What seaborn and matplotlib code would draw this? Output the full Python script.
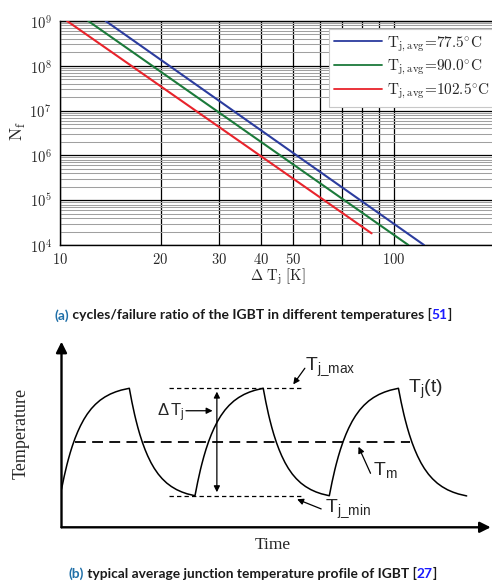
import numpy as np
import pandas as pd
import matplotlib
matplotlib.use("Agg")
import matplotlib.pyplot as plt
import seaborn as sns
from matplotlib.ticker import FixedLocator, FixedFormatter, LogLocator, NullFormatter
from matplotlib.lines import Line2D

# ---------------- panel (a): cycles to failure vs. junction swing ----------------
series_labels = [
    r"$\mathrm{T_{j,avg}}$=77.5$^{\circ}$C",
    r"$\mathrm{T_{j,avg}}$=90.0$^{\circ}$C",
    r"$\mathrm{T_{j,avg}}$=102.5$^{\circ}$C",
]
series_colors = ["#2b3c9e", "#1b7a3a", "#e8232b"]

dtj_775 = [13.7, 123.0]
nf_775 = [1e9, 1e4]
dtj_900 = [12.15, 110.4]
nf_900 = [1e9, 1e4]
dtj_1025 = [10.5, 85.7]
nf_1025 = [1e9, 1.82e4]

x_tick_values = [10, 20, 30, 40, 50, 100]
x_tick_labels = ["10", "20", "30", "40", "50", "100"]
x_minor_grid = [60, 70, 80, 90]
y_tick_values = [1e4, 1e5, 1e6, 1e7, 1e8, 1e9]
y_tick_labels = [r"$10^{4}$", r"$10^{5}$", r"$10^{6}$", r"$10^{7}$", r"$10^{8}$", r"$10^{9}$"]

# ---------------- panel (b): junction temperature profile ----------------
knot_time = [0.0, 1.58, 3.11, 4.70, 6.24, 7.85, 9.44]
knot_temp = [2.05, 7.49, 1.70, 7.49, 1.70, 7.49, 1.69]
# thermal charge / discharge shape between two knots (fraction of time, fraction of swing)
profile_time = [0.0, 0.02, 0.04, 0.06, 0.08, 0.10, 0.13, 0.16, 0.20, 0.24, 0.28,
                0.33, 0.38, 0.44, 0.50, 0.57, 0.64, 0.72, 0.80, 0.88, 0.94, 1.0]
profile_swing = [0.0, 0.067, 0.129, 0.188, 0.243, 0.294, 0.365, 0.429, 0.505, 0.571, 0.629,
                 0.692, 0.745, 0.798, 0.841, 0.882, 0.914, 0.943, 0.965, 0.982, 0.991, 1.0]
temp_mean = 4.61
temp_max = 7.49
temp_min = 1.70

W, H = 492, 583
fig = plt.figure(figsize=(W / 100, H / 100), dpi=100)
sns.set_theme(style="white")
plt.rcParams["font.family"] = ["DejaVu Sans"]
plt.rcParams["mathtext.fontset"] = "cm"


def fx(px):
    return px / W


def fy(py):
    return 1 - py / H


# ================= panel (a) =================
ax1 = fig.add_axes([fx(60), fy(245), (494.5 - 60) / W, (245 - 21) / H])
ax1.set_xscale("log")
ax1.set_yscale("log")

df = pd.DataFrame({
    "dT": dtj_775 + dtj_900 + dtj_1025,
    "Nf": nf_775 + nf_900 + nf_1025,
    "series": [series_labels[0]] * len(dtj_775)
    + [series_labels[1]] * len(dtj_900)
    + [series_labels[2]] * len(dtj_1025),
})
sns.lineplot(data=df, x="dT", y="Nf", hue="series", hue_order=series_labels,
             palette=dict(zip(series_labels, series_colors)), linewidth=1.5,
             estimator=None, sort=False, legend=False, ax=ax1, zorder=3)

ax1.set_xlim(10, 200)
ax1.set_ylim(1e4, 1e9)
ax1.xaxis.set_major_locator(FixedLocator(x_tick_values))
ax1.xaxis.set_major_formatter(FixedFormatter([rf"$\mathrm{{{s}}}$" for s in x_tick_labels]))
ax1.xaxis.set_minor_locator(FixedLocator(x_minor_grid))
ax1.xaxis.set_minor_formatter(NullFormatter())
ax1.yaxis.set_major_locator(FixedLocator(y_tick_values))
ax1.yaxis.set_major_formatter(FixedFormatter(y_tick_labels))
ax1.yaxis.set_minor_locator(LogLocator(base=10, subs=np.arange(2, 10)))
ax1.yaxis.set_minor_formatter(NullFormatter())

ax1.set_axisbelow(True)
ax1.grid(which="major", axis="both", color="black", linewidth=0.9)
ax1.grid(which="minor", axis="x", color="black", linewidth=0.9)
ax1.grid(which="minor", axis="y", color="#a0a0a0", linewidth=0.75)
ax1.tick_params(which="both", length=0, labelsize=10.5)
ax1.tick_params(axis="x", pad=5)
ax1.tick_params(axis="y", pad=6)
for sp in ax1.spines.values():
    sp.set_color("black")
    sp.set_linewidth(1.0)

ax1.set_xlabel(r"$\mathrm{\Delta\ T_j\ [K]}$", fontsize=10.5)
ax1.xaxis.set_label_coords(0.502, -0.098)
ax1.set_ylabel(r"$\mathrm{N_f}$", fontsize=12.5)
ax1.yaxis.set_label_coords(-0.074, 0.51)

handles = [Line2D([], [], color=c, linewidth=1.3) for c in series_colors]
leg = ax1.legend(handles, series_labels, loc="upper left",
                 bbox_to_anchor=((329 - 60) / 434.5, (245 - 29) / 224),
                 prop={"family": "cmr10", "size": 11}, frameon=True, fancybox=False,
                 framealpha=1, edgecolor="#c8c8c8", handlelength=3.1,
                 handletextpad=0.35, borderpad=0.35, labelspacing=0.3, borderaxespad=0)
leg.get_frame().set_linewidth(0.8)

# ================= panel (b) =================
ax2 = fig.add_axes([fx(61.5), fy(527.3), (490.7 - 61.5) / W, (527.3 - 341.7) / H])

seg_t, seg_T = [], []
for i in range(len(knot_time) - 1):
    t0, t1 = knot_time[i], knot_time[i + 1]
    T0, T1 = knot_temp[i], knot_temp[i + 1]
    for s, f in zip(profile_time, profile_swing):
        seg_t.append(t0 + (t1 - t0) * s)
        seg_T.append(T0 + (T1 - T0) * f)
profile_df = pd.DataFrame({"time": seg_t, "temp": seg_T})
sns.lineplot(data=profile_df, x="time", y="temp", color="black", linewidth=1.1,
             estimator=None, sort=False, ax=ax2)
ax2.set_xlim(0, 10)
ax2.set_ylim(0, 10)
ax2.axis("off")

# axes arrows
arrow_kw = dict(arrowstyle="-|>", color="black", lw=1.7, mutation_scale=16,
                shrinkA=0, shrinkB=0)
ax2.annotate("", xy=(0, 1), xytext=(0, 0), xycoords="axes fraction", arrowprops=arrow_kw)
ax2.annotate("", xy=(1, 0), xytext=(0, 0), xycoords="axes fraction", arrowprops=arrow_kw)

# reference levels
ax2.plot([0.31, 8.12], [temp_mean, temp_mean], color="black", lw=1.3, dashes=(6, 3.5))
ax2.plot([2.51, 5.63], [temp_max, temp_max], color="black", lw=0.9, dashes=(3.5, 2.5))
ax2.plot([2.51, 5.63], [temp_min, temp_min], color="black", lw=0.9, dashes=(3.5, 2.5))

# swing arrow
ax2.annotate("", xy=(3.62, 7.31), xytext=(3.62, 1.89),
             arrowprops=dict(arrowstyle="<|-|>", color="black", lw=0.9,
                             mutation_scale=9, shrinkA=0, shrinkB=0))

small_arrow = dict(arrowstyle="-|>", color="black", lw=0.9, mutation_scale=9,
                   shrinkA=0, shrinkB=0)
sans = ["Liberation Sans", "DejaVu Sans"]

ax2.text(2.23, 5.96, r"$\mathregular{Δ\,T_j}$", fontsize=12, family=sans, va="baseline")
ax2.annotate("", xy=(3.52, 6.28), xytext=(2.90, 6.28), arrowprops=small_arrow)

ax2.text(5.67, 8.48, r"$\mathregular{T_{j\_max}}$", fontsize=14, family=sans, va="baseline")
ax2.annotate("", xy=(5.40, 7.70), xytext=(5.67, 8.57), arrowprops=small_arrow)

ax2.text(8.08, 7.22, r"$\mathregular{T_j(t)}$", fontsize=14, family=sans, va="baseline")

ax2.text(7.25, 2.82, r"$\mathregular{T_m}$", fontsize=14, family=sans, va="baseline")
ax2.annotate("", xy=(6.92, 4.34), xytext=(7.20, 2.91), arrowprops=small_arrow)

ax2.text(6.14, 0.84, r"$\mathregular{T_{j\_min}}$", fontsize=14, family=sans, va="baseline")
ax2.annotate("", xy=(5.49, 1.51), xytext=(6.05, 0.99), arrowprops=small_arrow)

fig.text(fx(21), fy(433), "Temperature", rotation=90, fontsize=13,
         family=["Liberation Serif"], ha="center", va="center")
fig.text(fx(273), fy(545), "Time", fontsize=12.5,
         family=["Liberation Serif"], ha="center", va="center")

# ================= captions =================
renderer = fig.canvas.get_renderer()


def caption(parts, y_px, target_w, cx):
    texts = [fig.text(0, fy(y_px), s, color=c, fontsize=10, fontweight="bold",
                      family=["Lato", "DejaVu Sans"], va="baseline")
             for s, c in parts]
    widths = [t.get_window_extent(renderer).width for t in texts]
    scale = target_w / sum(widths)
    for t in texts:
        t.set_fontsize(10 * scale)
    widths = [t.get_window_extent(renderer).width for t in texts]
    x = cx - sum(widths) / 2
    for t, w in zip(texts, widths):
        t.set_x(fx(x))
        x += w


cap_blue = "#1f6fa8"
ref_blue = "#1a1aff"
ink = "#1a1a1a"
caption([("(a)", cap_blue),
         (" cycles/failure ratio of the IGBT in different temperatures [", ink),
         ("51", ref_blue), ("]", ink)], 319.5, 398, 253)
caption([("(b)", cap_blue),
         (" typical average junction temperature profile of IGBT [", ink),
         ("27", ref_blue), ("]", ink)], 577.5, 368, 252.5)

fig.savefig("out.png", dpi=100)
